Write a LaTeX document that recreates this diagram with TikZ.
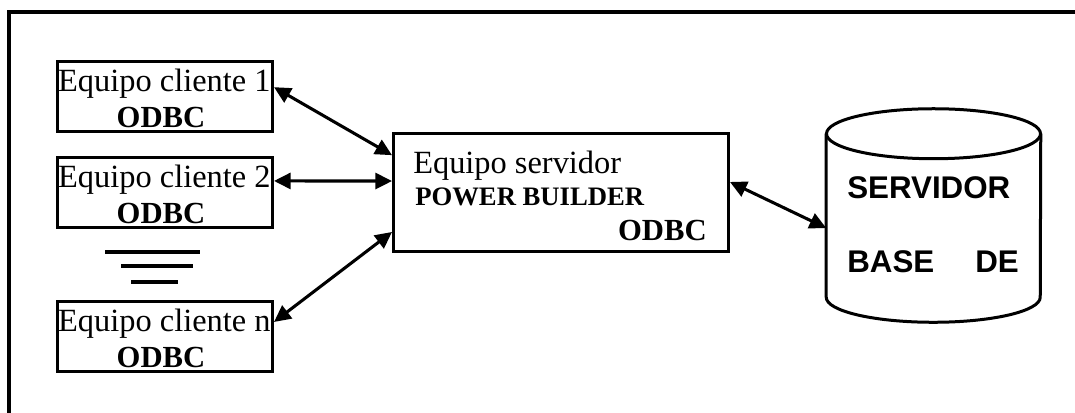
\documentclass[tikz,border=0pt]{standalone}
\usepackage{fontspec}
\setmainfont{Liberation Serif}
\setsansfont{Liberation Sans}
\usetikzlibrary{arrows.meta,calc}

\tikzset{
	box/.style={draw, line width=2.25pt, inner sep=0pt},
	clientbox/.style={box, minimum width=161.25pt, minimum height=52.5pt},
	link/.style={line width=2.3pt, {Triangle[length=12.5pt,width=12pt]}-{Triangle[length=12.5pt,width=12pt]}},
	eqtext/.style={font=\fontsize{24.3}{24.3}\selectfont, inner sep=0pt},
	odbctext/.style={font=\fontsize{23}{23}\selectfont\bfseries, inner sep=0pt},
	dbtext/.style={font=\fontsize{23.5}{23.5}\sffamily\bfseries, inner sep=0pt},
}

\begin{document}
\begin{tikzpicture}[x=0.75pt, y=-0.75pt]
			%%%%% START %%%%%
			
			\useasboundingbox (0, 0) rectangle (1075, 412);
			\draw[line width=3pt] (9, 420) -- (9, 12) -- (1085, 12);
			
			% clients
			\foreach \n/\y in {1/96.5, 2/192, n/336.5} {
				\node[clientbox] (c\n) at (165, \y) {};
				\node[eqtext, anchor=base] (c\n t) at ([xshift=-0.5pt, yshift=3.4pt]c\n.center) {Equipo cliente \n};
				\node[odbctext, anchor=base] (c\n o) at ([xshift=-3pt, yshift=-23.6pt]c\n.center) {ODBC};
			}
			
			\draw[line width=3pt] (105, 252) -- (200, 252);
			\draw[line width=3pt] (121, 266) -- (193, 266);
			\draw[line width=3pt] (131, 282) -- (178, 282);
			
			% server
			\node[box, minimum width=251.25pt, minimum height=88.5pt] (srv) at (561, 192.5) {};
			\node[eqtext, anchor=base west] (srvt) at (413, 173) {Equipo servidor};
			\node[font=\fontsize{20}{20}\selectfont\bfseries, inner sep=0pt, anchor=base west] (srvp) at (415, 205) {POWER BUILDER};
			\node[odbctext, anchor=base east] (srvo) at (707, 240) {ODBC};
			
			% database
			\node[minimum width=160.5pt, minimum height=159.75pt, inner sep=0pt] (db) at (933.5, 215.5) {};
			\draw[line width=2.25pt] ([yshift=-18.75pt]db.north west) -- ([yshift=18.75pt]db.south west)
				arc (180:0:107 and 25) -- ([yshift=-18.75pt]db.north east);
			\draw[line width=2.25pt] ([yshift=-18.75pt]db.north) ellipse (107 and 25);
			\node[dbtext, anchor=base west] (dbs) at (847, 198) {SERVIDOR};
			\node[dbtext, anchor=base west] (dbb) at (847, 272) {BASE};
			\node[dbtext, anchor=base west] (dbd) at (975, 272) {DE};
			
			\draw[link] ([yshift=7pt]c1.east) -- ([yshift=28pt]srv.west);
			\draw[link] ([yshift=8.3pt]c2.east) -- ([yshift=8.6pt]srv.west);
			\draw[link] ([yshift=10.9pt]cn.east) -- ([yshift=-29.6pt]srv.west);
			\draw[link] ([yshift=7.9pt]srv.east) -- ([yshift=-9.4pt]db.west);
			
			%%%%% END %%%%%
\end{tikzpicture}
\end{document}
